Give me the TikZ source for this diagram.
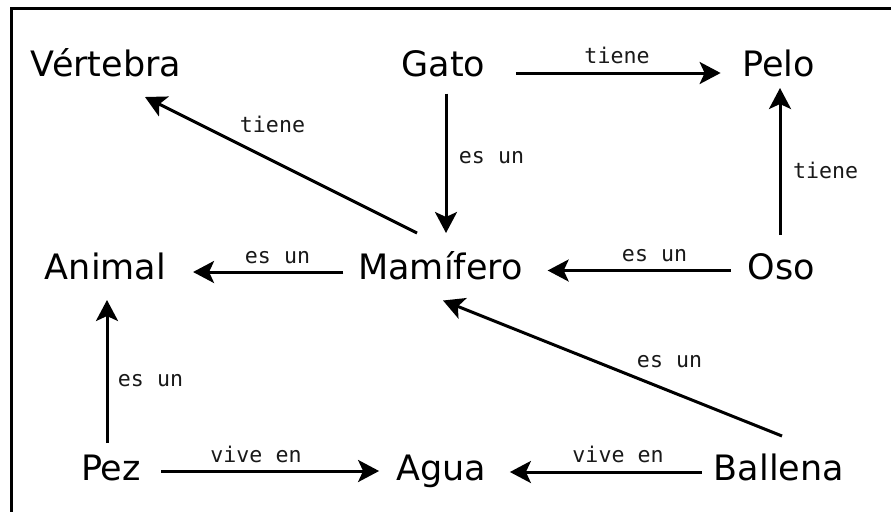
\documentclass[tikz,border=0pt]{standalone}
\usepackage{fontspec}
\setmainfont{DejaVu Sans}
\newfontfamily\lblfont{DejaVu Sans Mono}
\usetikzlibrary{arrows.meta}
\tikzset{
  nd/.style={anchor=base, inner sep=0pt, outer sep=0pt, font=\fontsize{35}{40}\selectfont, text=black},
  lbl/.style={anchor=base, inner sep=0pt, outer sep=0pt, font=\lblfont\fontsize{21.6}{24}\selectfont, text=black!90},
  arr/.style={line width=3pt, -{Stealth[length=21pt,width=22pt,inset=5pt]}},
  frame/.style={line width=3.2pt}
}
\begin{document}
\begin{tikzpicture}[x=1pt,y=-1pt]
\useasboundingbox (0,0) rectangle (891,512);
\fill[white] (0,0) rectangle (891,512);
\draw[frame] (891,8.5) -- (11.5,8.5) -- (11.5,512);

% nodes
\node[nd] (vert) at (106,76.5) {Vértebra};
\node[nd] (gato) at (443.5,76.5) {Gato};
\node[nd] (pelo) at (778.5,76.5) {Pelo};
\node[nd] (animal) at (105.5,279.5) {Animal};
\node[nd] (mam) at (440.5,279.5) {Mamífero};
\node[nd] (oso) at (781.5,279.5) {Oso};
\node[nd] (pez) at (111,480) {Pez};
\node[nd] (agua) at (441,480) {Agua};
\node[nd] (ball) at (779,480) {Ballena};

% connectors
\draw[arr, shorten <=30.6pt, shorten >=21.6pt] ([yshift=3.5pt]gato.base east) -- ([yshift=3.5pt]pelo.base west);
\draw[arr, shorten <=17pt, shorten >=46.5pt] ([xshift=2.5pt]gato.base) -- ([xshift=5.5pt]mam.base);
\draw[arr, shorten <=44.5pt, shorten >=11.5pt] ([xshift=-1.5pt]oso.base) -- ([xshift=1.5pt]pelo.base);
\draw[arr] ([xshift=-23.5pt,yshift=46.5pt]mam.base) -- ([xshift=39pt,yshift=-20.5pt]vert.base);
\draw[arr, shorten <=15pt, shorten >=27pt] ([yshift=7.5pt]mam.base west) -- ([yshift=7.5pt]animal.base east);
\draw[arr, shorten <=17pt, shorten >=25pt] ([yshift=9pt]oso.base west) -- ([yshift=9pt]mam.base east);
\draw[arr, shorten <=37pt, shorten >=20.5pt] ([xshift=-4pt]pez.base) -- ([xshift=1.5pt]animal.base);
\draw[arr] ([xshift=3pt,yshift=44pt]ball.base) -- ([xshift=2.5pt,yshift=-21pt]mam.base);
\draw[arr, shorten <=20.5pt, shorten >=17pt] ([yshift=9pt]pez.base east) -- ([yshift=9pt]agua.base west);
\draw[arr, shorten <=12pt, shorten >=24pt] ([yshift=8pt]ball.base west) -- ([yshift=8pt]agua.base east);

% labels
\node[lbl] (l1) at (617,63) {tiene};
\node[lbl] (l2) at (491.5,163) {es un};
\node[lbl] (l3) at (825.5,178) {tiene};
\node[lbl] (l4) at (272.5,132.7) {tiene};
\node[lbl] (l5) at (277.5,263) {es un};
\node[lbl] (l6) at (654.5,261) {es un};
\node[lbl] (l7) at (150.5,386) {es un};
\node[lbl] (l8) at (669.5,367) {es un};
\node[lbl] (l9) at (256,462) {vive en};
\node[lbl] (l10) at (618,462) {vive en};
\end{tikzpicture}
\end{document}
